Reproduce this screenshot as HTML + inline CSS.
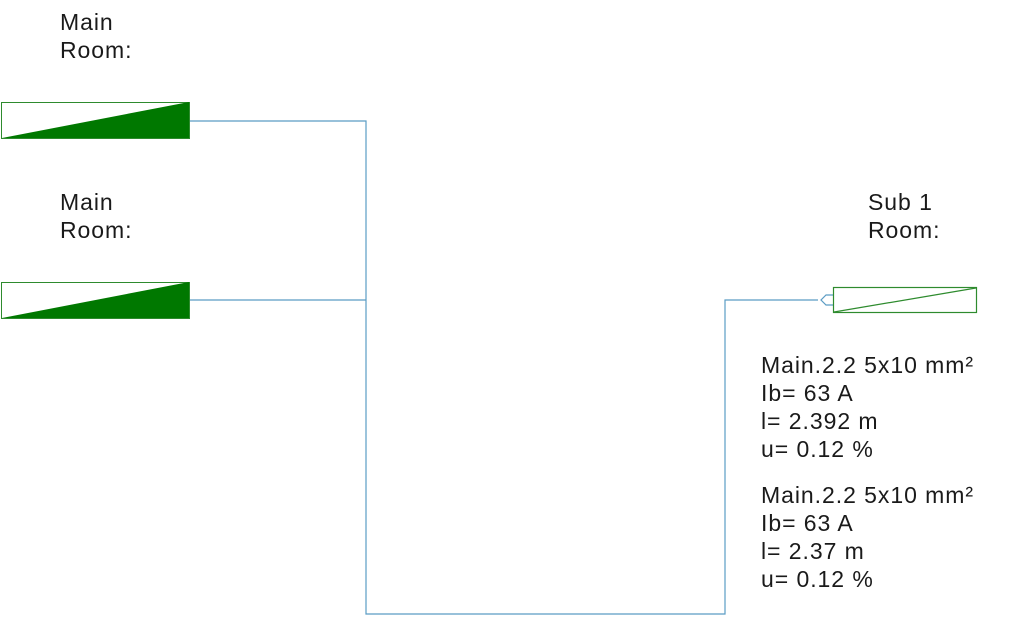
<!DOCTYPE html>
<html><head><style>
body{margin:0;width:1024px;height:624px;background:#fff;overflow:hidden;position:relative;font-family:"Liberation Sans",Arial,sans-serif;color:#1a1a1a}
.t{position:absolute;font-size:23px;letter-spacing:0.95px;line-height:28px;white-space:nowrap}
</style></head><body>
<svg width="1024" height="624" style="position:absolute;left:0;top:0">
<g fill="none" stroke="#5b9cc4" stroke-width="1.2">
<polyline points="190,121 366,121 366,614 725,614 725,300 818,300"/>
<line x1="190" y1="300" x2="366" y2="300"/>
<polyline points="833,295 826,295 821,300 826,305 833,305"/>
</g>
<rect x="1.5" y="102.5" width="188" height="36" fill="#fff" stroke="#2e8b2e" stroke-width="1"/>
<polygon points="2,138 189,102 189,138" fill="#007800"/>
<rect x="1.5" y="282.5" width="188" height="36" fill="#fff" stroke="#2e8b2e" stroke-width="1"/>
<polygon points="2,318 189,282 189,318" fill="#007800"/>
<rect x="833.5" y="287.5" width="143" height="25" fill="#fff" stroke="#2e8b2e" stroke-width="1.2"/>
<line x1="834" y1="312" x2="976" y2="288" stroke="#2e8b2e" stroke-width="1.2"/>
</svg>
<div class="t" style="left:60px;top:8px">Main<br>Room:</div>
<div class="t" style="left:60px;top:188px">Main<br>Room:</div>
<div class="t" style="left:868px;top:188px">Sub 1<br>Room:</div>
<div class="t" style="left:761px;top:351px">Main.2.2 5x10 mm²<br>Ib= 63 A<br>l= 2.392 m<br>u= 0.12 %</div>
<div class="t" style="left:761px;top:481px">Main.2.2 5x10 mm²<br>Ib= 63 A<br>l= 2.37 m<br>u= 0.12 %</div>
</body></html>
